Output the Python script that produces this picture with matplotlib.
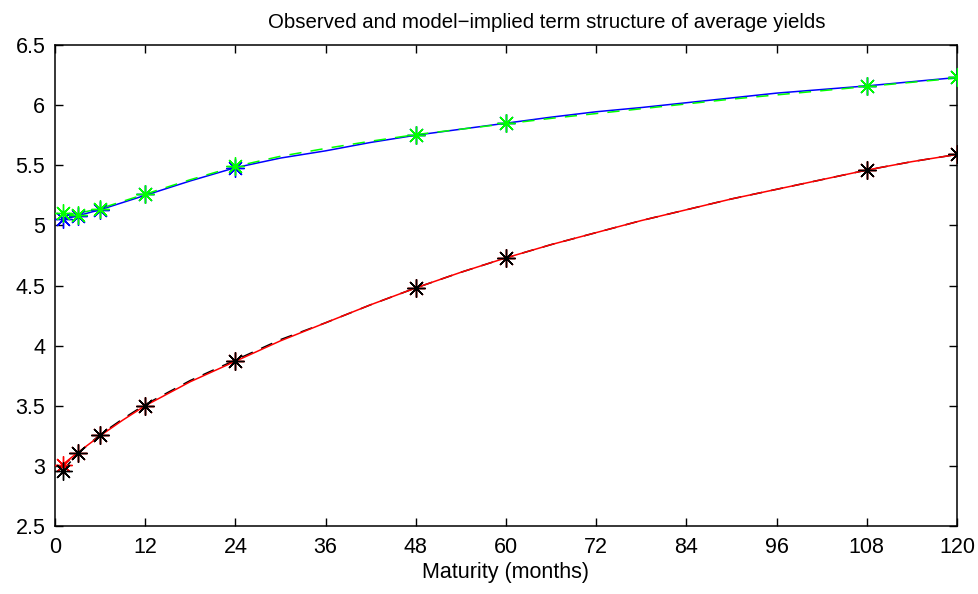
import numpy as np
import matplotlib
matplotlib.use('Agg')
from matplotlib import pyplot as plt

plt.rcParams['font.family'] = ['Liberation Sans', 'DejaVu Sans']

# maturities (months) where observed yields exist
obs_mat = [1, 3, 6, 12, 24, 48, 60, 108, 120]

# upper group: observed (green) and model at observed maturities (blue)
obs_up = [5.10, 5.09, 5.14, 5.26, 5.49, 5.75, 5.85, 6.16, 6.23]
mod_up_pts = [5.05, 5.08, 5.13, 5.26, 5.48, 5.75, 5.85, 6.16, 6.23]

# lower group: observed (black) and model at observed maturities (red)
obs_lo = [2.96, 3.11, 3.26, 3.50, 3.87, 4.48, 4.73, 5.46, 5.59]
mod_lo_pts = [3.01, 3.11, 3.26, 3.50, 3.87, 4.48, 4.73, 5.46, 5.59]

# curves
curve_mat = [1, 3, 6, 9, 12, 18, 24, 30, 36, 42, 48, 54, 60, 66, 72, 78,
             84, 90, 96, 102, 108, 114, 120]
blue_curve = [5.05, 5.08, 5.13, 5.19, 5.25, 5.37, 5.48, 5.56, 5.62, 5.69,
              5.75, 5.80, 5.85, 5.90, 5.945, 5.98, 6.02, 6.06, 6.10, 6.13,
              6.16, 6.195, 6.23]
green_curve = [5.08, 5.10, 5.14, 5.20, 5.26, 5.38, 5.49, 5.575, 5.64, 5.70,
               5.755, 5.80, 5.845, 5.89, 5.93, 5.97, 6.01, 6.05, 6.085, 6.12,
               6.155, 6.19, 6.225]
red_curve = [3.01, 3.11, 3.25, 3.38, 3.50, 3.70, 3.87, 4.04, 4.19, 4.34,
             4.48, 4.61, 4.73, 4.84, 4.94, 5.04, 5.13, 5.22, 5.30, 5.38,
             5.46, 5.53, 5.59]
black_curve = [2.96, 3.10, 3.26, 3.39, 3.51, 3.71, 3.88, 4.05, 4.19, 4.34,
               4.48, 4.61, 4.73, 4.84, 4.94, 5.04, 5.13, 5.22, 5.30, 5.38,
               5.46, 5.53, 5.59]

xticks = [0, 12, 24, 36, 48, 60, 72, 84, 96, 108, 120]
yticks = [2.5, 3, 3.5, 4, 4.5, 5, 5.5, 6, 6.5]

fig = plt.figure(figsize=(9.79, 5.94), dpi=100)
ax = fig.add_axes([0.0562, 0.1145, 0.9213, 0.8097])

ast = (8, 2, 0)
ms = 13

ax.plot(curve_mat, red_curve, color='red', lw=1.1, zorder=3)
ax.plot(curve_mat, black_curve, color='black', lw=1.1, ls=(0, (8, 6)), zorder=2)
ax.plot(obs_mat, mod_lo_pts, ls='none', marker=ast, ms=ms, mec='red', mew=1.0, zorder=4)
ax.plot(obs_mat, obs_lo, ls='none', marker=ast, ms=ms, mec='black', mew=1.0, zorder=5)

ax.plot(curve_mat, blue_curve, color='blue', lw=1.1, zorder=2)
ax.plot(curve_mat, green_curve, color='#00ff00', lw=1.1, ls=(0, (8, 6)), zorder=3)
ax.plot(obs_mat, mod_up_pts, ls='none', marker=ast, ms=ms, mec='blue', mew=1.0, zorder=4)
ax.plot(obs_mat, obs_up, ls='none', marker=ast, ms=ms, mec='#00ff00', mew=1.0, zorder=5)

ax.set_xlim(0, 120)
ax.set_ylim(2.5, 6.5)
ax.set_xticks(xticks)
ax.set_yticks(yticks)
ax.set_yticklabels([('%g' % v) for v in yticks])
ax.tick_params(direction='in', top=True, right=True, length=6, width=1,
               labelsize=15.5)
ax.tick_params(axis='x', pad=8)
ax.tick_params(axis='y', pad=7)
for s in ax.spines.values():
    s.set_linewidth(1.1)

ax.set_xlabel('Maturity (months)', fontsize=15.5, labelpad=3)
ax.set_title('Observed and model\u2212implied term structure of average yields',
             fontsize=14.7, pad=12, x=0.545)

fig.savefig('out.png', dpi=100)
